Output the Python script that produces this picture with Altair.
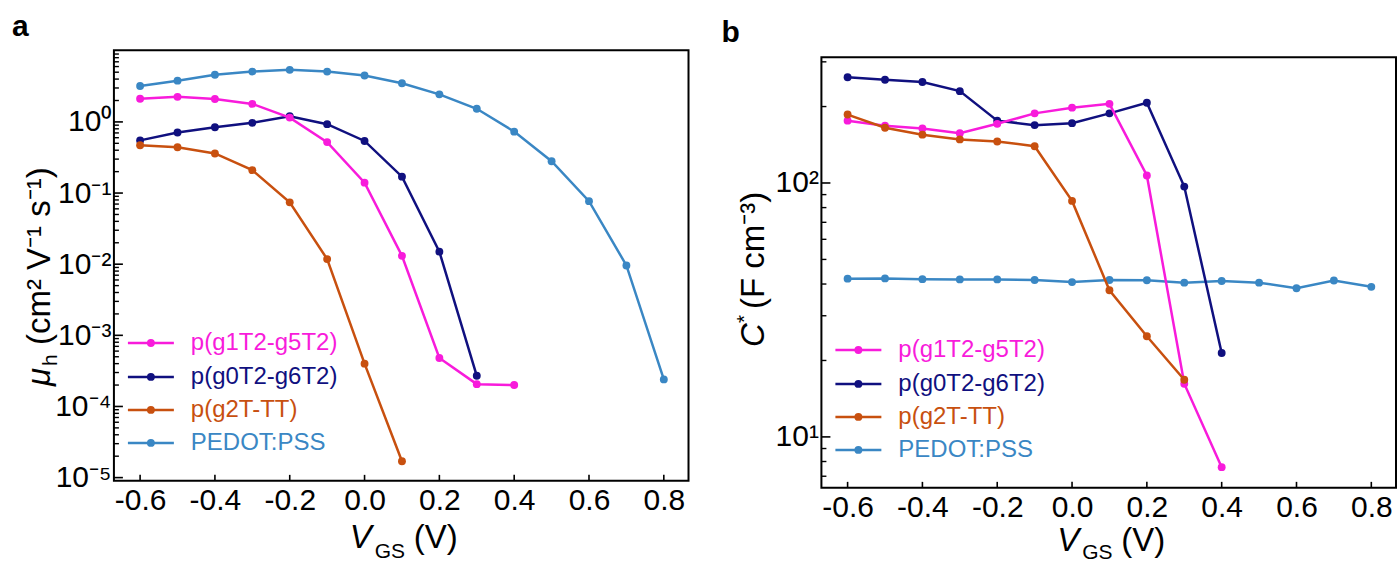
import math
import altair as alt
import pandas as pd

# ---------------- data ----------------
vgs = [-0.6, -0.5, -0.4, -0.3, -0.2, -0.1, 0.0, 0.1, 0.2, 0.3, 0.4, 0.5, 0.6, 0.7, 0.8]
series_names = ["p(g1T2-g5T2)", "p(g0T2-g6T2)", "p(g2T-TT)", "PEDOT:PSS"]
series_colors = ["#F81BDB", "#10107F", "#C8500F", "#3A87C4"]

# panel a: hole mobility (cm2 V-1 s-1)
mu_g1 = [2.12, 2.25, 2.1, 1.79, 1.15, 0.52, 0.14, 0.0131, 4.8e-4, 2.06e-4, 2.0e-4]
mu_g0 = [0.55, 0.71, 0.84, 0.97, 1.2, 0.93, 0.54, 0.17, 0.015, 2.7e-4]
mu_g2 = [0.47, 0.44, 0.36, 0.21, 0.074, 0.0118, 4.0e-4, 1.7e-5]
mu_pedot = [3.2, 3.8, 4.6, 5.1, 5.4, 5.1, 4.5, 3.5, 2.44, 1.53, 0.73, 0.28, 0.077, 0.0096, 2.4e-4]

# panel b: volumetric capacitance (F cm-3)
c_g1 = [176, 168, 164, 157, 171, 188, 198, 205, 107, 16.2, 7.6]
c_g0 = [261, 255, 250, 230, 176, 169, 172, 188, 207, 96.8, 21.4]
c_g2 = [186, 165, 155, 148.5, 145.7, 139.6, 85, 37.8, 24.9, 16.8]
c_pedot = [42, 42.1, 41.8, 41.7, 41.7, 41.5, 40.7, 41.5, 41.4, 40.5, 41.1, 40.5, 38.5, 41.3, 39.0]

x_ticks = [-0.6, -0.4, -0.2, 0.0, 0.2, 0.4, 0.6, 0.8]
a_major = [1e-5, 1e-4, 1e-3, 1e-2, 1e-1, 1e0]
a_labels = ["10⁻⁵", "10⁻⁴", "10⁻³", "10⁻²", "10⁻¹", "10⁰"]
b_major = [10, 100]
b_labels = ["10¹", "10²"]

# ---------------- style ----------------
W, H = 575, 431
FONT = "Liberation Sans"
TICK_FS = 30
MS = 62
LW = 2.5
draw_order = [3, 1, 0, 2]
legend_rows = [293, 327, 360, 393]


def long_df(lists):
    rows = []
    for name, vals in zip(series_names, lists):
        for v, y in zip(vgs, vals):
            rows.append({"V": v, "val": y, "series": name})
    return pd.DataFrame(rows)


def minor_ticks(lo, hi):
    out = []
    e = -6
    while 10 ** e <= hi:
        for m in range(2, 10):
            t = m * 10 ** e
            if lo < t < hi:
                out.append(t)
        e += 1
    return out


one = pd.DataFrame({"z": [0]})


def make_panel(lists, ydom, ymajor, ylabels, letter, ytitle, xtitle):
    df = long_df(lists)
    xscale = alt.Scale(domain=[-0.67, 0.866], nice=False, zero=False)
    yscale = alt.Scale(type="log", domain=ydom, nice=False)
    xaxis = alt.Axis(values=x_ticks,
                     labelExpr="(datum.value < -0.001 ? '-' : '') + format(abs(datum.value), '.1f')",
                     ticks=False, domain=False, grid=False, labelFontSize=TICK_FS,
                     labelFont=FONT, labelColor="black", labelPadding=5, title="")
    lab_arr = "[" + ",".join("'%s'" % s for s in ylabels) + "]"
    e0 = round(math.log10(ymajor[0]))
    yaxis = alt.Axis(values=ymajor,
                     labelExpr=lab_arr + "[round(log(datum.value)/LN10) - (%d)]" % e0,
                     ticks=False, domain=False, grid=False, labelFontSize=TICK_FS,
                     labelFont=FONT, labelColor="black", labelPadding=3, title="")

    def X(f):
        return alt.X(f, type="quantitative", scale=xscale, axis=xaxis)

    def Y(f):
        return alt.Y(f, type="quantitative", scale=yscale, axis=yaxis)

    layers = []
    for i in draw_order:
        d = df[df.series == series_names[i]]
        base = alt.Chart(d)
        layers.append(base.mark_line(color=series_colors[i], strokeWidth=LW).encode(x=X("V"), y=Y("val")))
        layers.append(base.mark_point(color=series_colors[i], filled=True, opacity=1, size=MS).encode(x=X("V"), y=Y("val")))

    # inward ticks
    tmaj = pd.DataFrame({"t": ymajor})
    tmin = pd.DataFrame({"t": minor_ticks(ydom[0], ydom[1])})
    txx = pd.DataFrame({"t": x_ticks})
    layers.append(alt.Chart(tmaj).mark_rule(color="black", strokeWidth=1.6).encode(
        y=Y("t"), x=alt.value(0), x2=alt.value(9)))
    layers.append(alt.Chart(tmin).mark_rule(color="black", strokeWidth=1.4).encode(
        y=Y("t"), x=alt.value(0), x2=alt.value(5)))
    layers.append(alt.Chart(txx).mark_rule(color="black", strokeWidth=1.6).encode(
        x=X("t"), y=alt.value(H), y2=alt.value(H - 6)))

    # legend
    for i, ry in enumerate(legend_rows):
        c = series_colors[i]
        layers.append(alt.Chart(one).mark_rule(color=c, strokeWidth=LW).encode(
            x=alt.value(14), x2=alt.value(60), y=alt.value(ry)))
        layers.append(alt.Chart(one).mark_point(color=c, filled=True, opacity=1, size=MS).encode(
            x=alt.value(37), y=alt.value(ry)))
        layers.append(alt.Chart(one).mark_text(color=c, align="left", baseline="middle",
                                               fontSize=24, font=FONT).encode(
            x=alt.value(77), y=alt.value(ry), text=alt.value(series_names[i])))

    # panel letter
    layers.append(alt.Chart(one).mark_text(align="left", baseline="alphabetic", fontSize=30,
                                           fontWeight="bold", font=FONT, color="black").encode(
        x=alt.value(letter[1]), y=alt.value(letter[2]), text=alt.value(letter[0])))

    # y title pieces (rotated)
    for txt, fx, fy, fs, style in ytitle:
        layers.append(alt.Chart(one).mark_text(align="left", baseline="alphabetic", angle=270,
                                               fontSize=fs, font=FONT, fontStyle=style,
                                               color="black").encode(
            x=alt.value(fx), y=alt.value(fy), text=alt.value(txt)))

    # x title pieces
    for txt, fx, fy, fs, style in xtitle:
        layers.append(alt.Chart(one).mark_text(align="left", baseline="alphabetic",
                                               fontSize=fs, font=FONT, fontStyle=style,
                                               color="black").encode(
            x=alt.value(fx), y=alt.value(fy), text=alt.value(txt)))

    return alt.layer(*layers).properties(width=W, height=H)


panel_a = make_panel(
    [mu_g1, mu_g0, mu_g2, mu_pedot], [9e-6, 10.2], a_major, a_labels,
    ("a", -102, -14),
    [("μ", -64, 336, 33, "italic"), ("h", -57, 316, 21, "normal"),
     ("(cm² V⁻¹ s⁻¹)", -64, 295, 33, "normal")],
    [("V", 236, 498, 33, "italic"), ("GS", 261, 508, 21, "normal"),
     ("(V)", 300, 498, 33, "normal")])

panel_b = make_panel(
    [c_g1, c_g0, c_g2, c_pedot], [6.3, 313], b_major, b_labels,
    ("b", -100, -15),
    [("C", -57, 290, 33, "italic"), ("*", -70, 266, 21, "normal"),
     ("(F cm⁻³)", -57, 252, 33, "normal")],
    [("V", 236, 494, 33, "italic"), ("GS", 261, 502, 21, "normal"),
     ("(V)", 300, 494, 33, "normal")])

spacer = alt.Chart(one).mark_point(opacity=0).encode(
    x=alt.value(0), y=alt.value(0)).properties(
    width=W, height=7, view=alt.ViewBackground(strokeOpacity=0))

right = alt.vconcat(spacer, panel_b, spacing=0, bounds="flush")

chart = alt.hconcat(panel_a, right, spacing=133, bounds="flush").properties(
    padding={"left": 11, "top": 11, "right": 0, "bottom": 0}
).configure_view(stroke="black", strokeWidth=2).configure_axis(
    labelFontSize=TICK_FS, labelFont=FONT, labelColor="black")

chart.save("out.html", embed_options={"renderer": "svg", "actions": False})
